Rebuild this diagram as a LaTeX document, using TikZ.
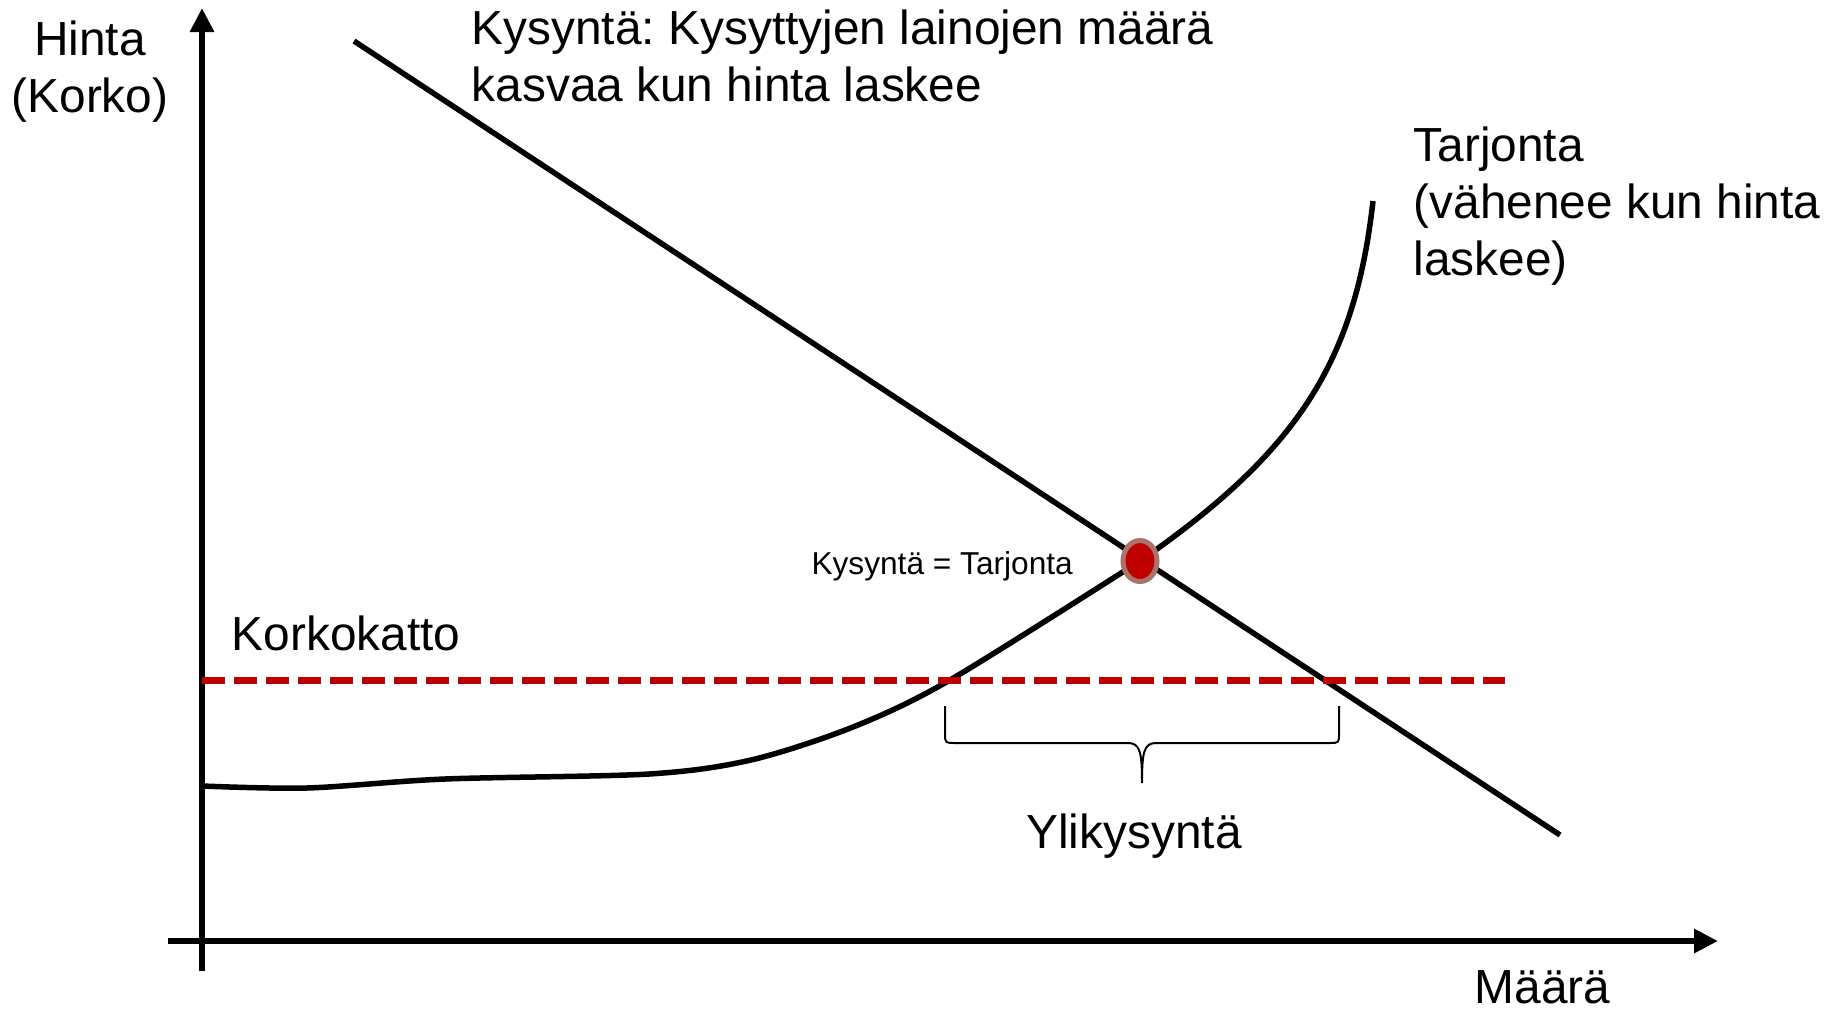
\documentclass[tikz,border=0pt]{standalone}
\usepackage{fontspec}
\setmainfont{Liberation Sans}
\usepackage{tikz}
\usetikzlibrary{arrows.meta, positioning, shapes.geometric}
\definecolor{capred}{HTML}{C00000}
\definecolor{dotrim}{HTML}{A9726A}
\frenchspacing

\begin{document}
\begin{tikzpicture}[
  x=0.01cm, y=-0.01cm,
  axis/.style={line width=0.065cm, -{Triangle[length=0.24cm, width=0.23cm]}},
  curve/.style={line width=0.055cm},
  capline/.style={line width=0.07cm, capred, dash pattern=on 0.23cm off 0.09cm},
  bracket/.style={line width=0.02cm},
  lbl/.style={font=\fontsize{13.6}{16.2}\selectfont, inner sep=0pt},
  smalllbl/.style={font=\fontsize{9}{11}\selectfont, inner sep=0pt},
  eqdot/.style={ellipse, draw=dotrim, fill=capred, line width=0.05cm, minimum width=0.34cm, minimum height=0.41cm, inner sep=0pt}
]
  \useasboundingbox (0,0) rectangle (1839,1012);

  % Axes
  \coordinate (ybot) at (202,971);
  \coordinate (ytop) at (202,8);
  \coordinate (xleft) at (168,941);
  \coordinate (xright) at (1718,941);
  \draw[axis] (ybot) -- (ytop);
  \draw[axis] (xleft) -- (xright);
  \node[lbl, align=center, anchor=north] (price) at (90,20) {Hinta\\(Korko)};
  \node[lbl, anchor=north west] (qty) at (1474,970) {Määrä};

  % Demand
  \coordinate (d1) at (354,41);
  \coordinate (d2) at (1560,835);
  \draw[curve] (d1) -- (d2);
  \node[lbl, align=left, anchor=north west] (demand) at (471,9) {Kysyntä: Kysyttyjen lainojen määrä\\kasvaa kun hinta laskee};

  % Supply
  \draw[curve] plot[smooth, tension=0.5] coordinates {(202,786) (307,788) (445,779) (649,774) (751,760) (853,727) (950,680) (1140,561)}
    .. controls (1300,450) and (1355,360) .. (1373,201);
  \node[lbl, align=left, anchor=north west] (supply) at (1413,126) {Tarjonta\\(vähenee kun hinta\\laskee)};

  % Interest rate cap
  \coordinate (c1) at (202,680);
  \coordinate (c2) at (1505,680);
  \draw[capline] (c1) -- (c2);
  \node[lbl, anchor=north west] (cap) at (231,615) {Korkokatto};

  % Equilibrium
  \node[eqdot] (eq) at (1140,561) {};
  \node[smalllbl, left=0.47cm of eq, yshift=-0.05cm] (eqlbl) {Kysyntä = Tarjonta};

  % Excess demand
  \coordinate (bl) at (945,706);
  \coordinate (br) at (1339,706);
  \coordinate (bt) at (1142,783);
  \draw[bracket] (bl) -- (945,733) .. controls (945,743) .. (955,743) -- (1128,743) .. controls (1140,743) and (1142,752) .. (bt)
    .. controls (1142,752) and (1144,743) .. (1156,743) -- (1329,743) .. controls (1339,743) .. (1339,733) -- (br);
  \node[lbl, below=0.3cm of bt, xshift=-0.08cm] (excess) {Ylikysyntä};
\end{tikzpicture}
\end{document}
